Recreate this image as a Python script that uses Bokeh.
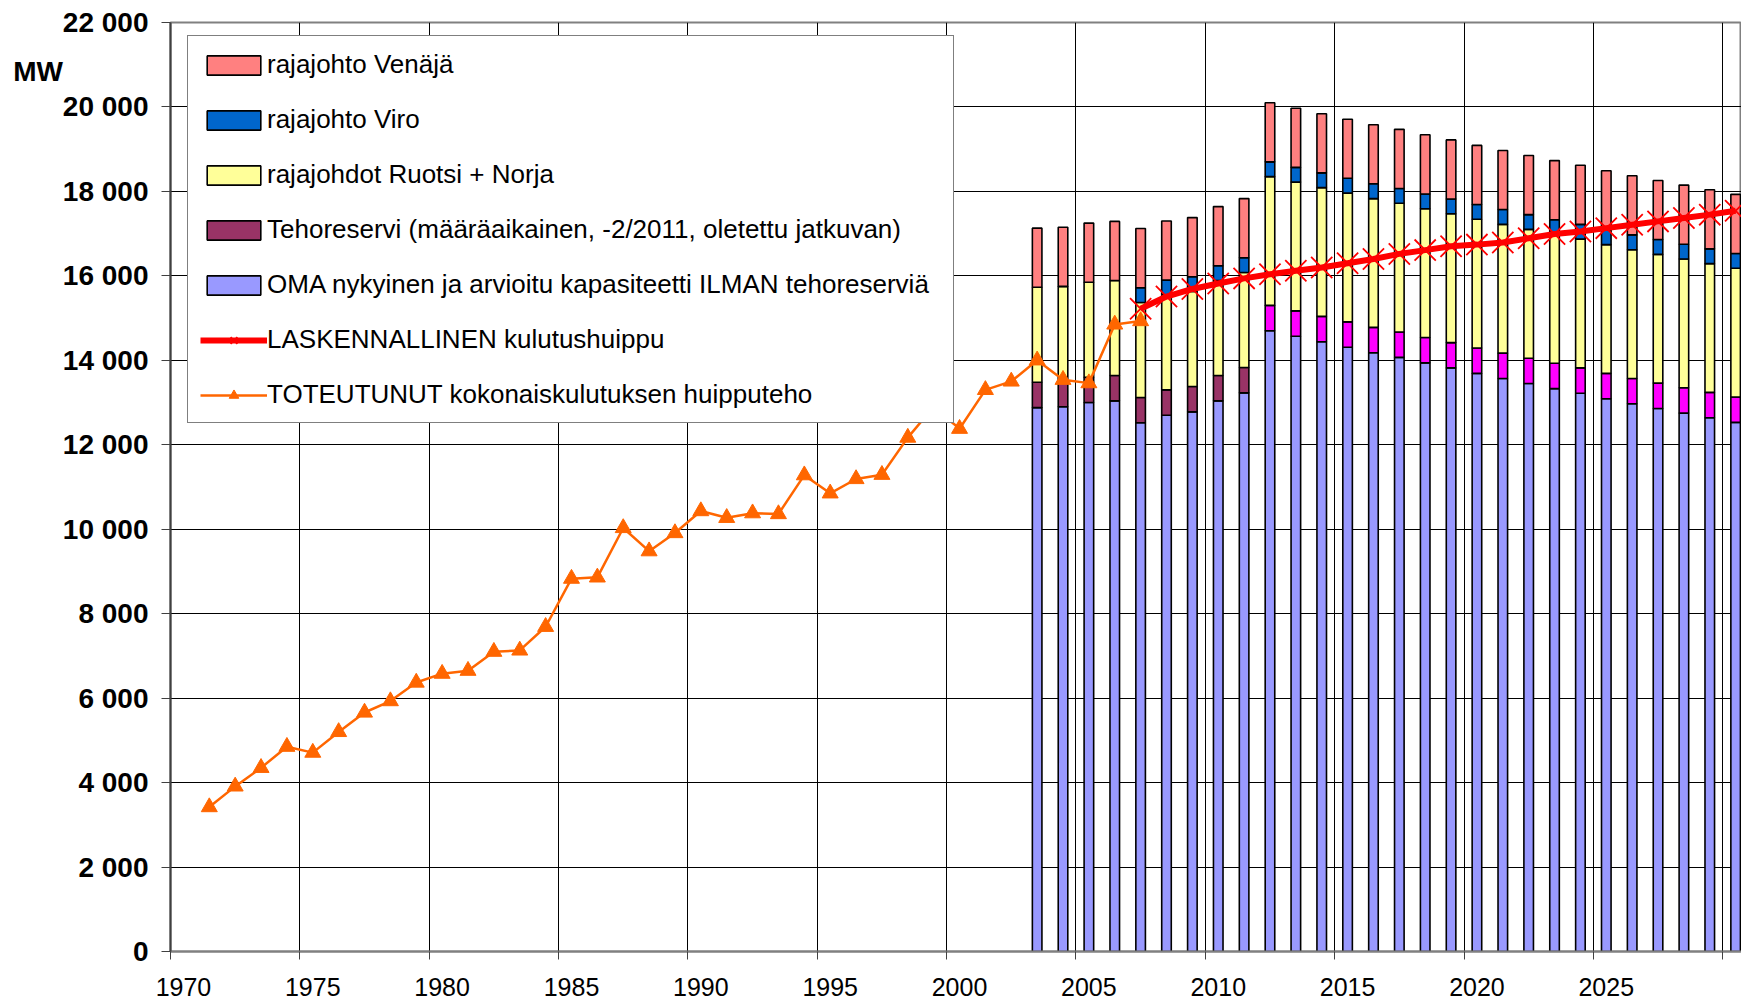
import numpy as np
from bokeh.plotting import figure
from bokeh.models import FixedTicker, Legend, LegendItem, Range1d, ColumnDataSource
from bokeh.embed import file_html
from bokeh.resources import INLINE

# ---------------- data ----------------
vuodet_hist = list(range(1971, 2008))
toteutunut = [3420, 3910, 4350, 4850, 4710, 5200, 5660, 5930, 6370, 6580,
              6650, 7100, 7130, 7690, 8830, 8860, 10030, 9480, 9910, 10430,
              10270, 10380, 10360, 11280, 10850, 11190, 11290, 12170, 12900, 12380,
              13300, 13500, 14000, 13540, 13460, 14850, 14930]

vuodet_lask = list(range(2007, 2031))
laskennallinen = [15220, 15510, 15690, 15820, 15940, 16040, 16120, 16200, 16300, 16400,
                  16520, 16610, 16700, 16740, 16790, 16890, 16990, 17050, 17130, 17210,
                  17290, 17370, 17450, 17540]

vuodet = list(range(2003, 2031))
oma = [12880, 12900, 13000, 13040, 12520, 12700, 12780, 13040, 13230, 14700,
       14570, 14440, 14310, 14180, 14070, 13940, 13820, 13690, 13570, 13450,
       13330, 13220, 13090, 12970, 12860, 12750, 12640, 12530]
tehoreservi = [600, 600, 600, 600, 600, 600, 600, 600, 600, 600,
               600, 600, 600, 600, 600, 600, 600, 600, 600, 600,
               600, 600, 600, 600, 600, 600, 600, 600]
ruotsi_norja = [2250, 2250, 2250, 2250, 2250, 2250, 2250, 2250, 2250, 3050,
                3050, 3050, 3050, 3050, 3050, 3050, 3050, 3050, 3050, 3050,
                3050, 3050, 3050, 3050, 3050, 3050, 3050, 3050]
viro = [0, 0, 0, 0, 350, 350, 350, 350, 350, 350,
        350, 350, 350, 350, 350, 350, 350, 350, 350, 350,
        350, 350, 350, 350, 350, 350, 350, 350]
venaja = [1400, 1400, 1400, 1400, 1400, 1400, 1400, 1400, 1400, 1400,
          1400, 1400, 1400, 1400, 1400, 1400, 1400, 1400, 1400, 1400,
          1400, 1400, 1400, 1400, 1400, 1400, 1400, 1400]

x_label_years = [1970, 1975, 1980, 1985, 1990, 1995, 2000, 2005, 2010, 2015, 2020, 2025]
y_ticks = [0, 2000, 4000, 6000, 8000, 10000, 12000, 14000, 16000, 18000, 20000, 22000]
yksikko = "MW"

labels = {
    "venaja": "rajajohto Venäjä",
    "viro": "rajajohto Viro",
    "ruotsi": "rajajohdot Ruotsi + Norja",
    "teho": "Tehoreservi (määräaikainen, -2/2011, oletettu jatkuvan)",
    "oma": "OMA nykyinen ja arvioitu kapasiteetti ILMAN tehoreserviä",
    "lask": "LASKENNALLINEN kulutushuippu",
    "tot": "TOTEUTUNUT kokonaiskulutuksen huipputeho",
}

# ---------------- layout ----------------
W, H = 1741, 999
FL, FT, FB = 170, 22, 48
PX_PER_YEAR = 25.87
X0 = 1969.5
X1 = X0 + (W - FL) / PX_PER_YEAR
FONT = "Liberation Sans"

p = figure(width=W, height=H, output_backend="svg", toolbar_location=None, title=None,
           x_range=Range1d(X0, X1), y_range=Range1d(0, 22000),
           min_border_left=FL, min_border_right=0, min_border_top=FT, min_border_bottom=FB)
p.background_fill_color = "white"
p.border_fill_color = "white"
p.outline_line_color = "#808080"
p.outline_line_width = 2

# ---------------- bars ----------------
BAR_W = 0.37
years = np.array(vuodet, dtype=float)
bottom = np.zeros(len(years))


def add_layer(values, colors):
    global bottom
    vals = np.array(values, dtype=float)
    src = ColumnDataSource(dict(x=years, b=bottom.copy(), t=bottom + vals, c=colors))
    r = p.vbar(x="x", bottom="b", top="t", width=BAR_W, fill_color="c",
               line_color="black", line_width=1.6, source=src)
    bottom = bottom + vals
    return r


n = len(years)
r_oma = add_layer(oma, ["#9999FF"] * n)
r_teho = add_layer(tehoreservi, ["#993366" if y <= 2011 else "#FF00FF" for y in vuodet])
r_ruotsi = add_layer(ruotsi_norja, ["#FFFF99"] * n)
r_viro = add_layer(viro, ["#0066CC"] * n)
r_venaja = add_layer(venaja, ["#FF8080"] * n)

# ---------------- lines ----------------
r_lask_l = p.line(vuodet_lask, laskennallinen, line_color="#FF0000", line_width=6)
r_lask_m = p.scatter(vuodet_lask, laskennallinen, marker="x", size=30,
                     line_color="#FF0000", line_width=1.8)
r_tot_l = p.line(vuodet_hist, toteutunut, line_color="#FF6600", line_width=2.5)
r_tot_m = p.scatter(vuodet_hist, toteutunut, marker="triangle", size=16,
                    fill_color="#FF6600", line_color="#FF6600")

# ---------------- axes & grid ----------------
boundaries = [t - 0.5 for t in x_label_years] + [x_label_years[-1] + 4.5]
xa = p.xaxis[0]
xa.ticker = FixedTicker(ticks=x_label_years, minor_ticks=boundaries)
xa.major_tick_line_color = None
xa.major_tick_out = 0
xa.major_tick_in = 0
xa.minor_tick_line_color = "#404040"
xa.minor_tick_out = 8
xa.minor_tick_in = 0
xa.axis_line_color = "#808080"
xa.axis_line_width = 2
xa.major_label_text_font = FONT
xa.major_label_text_font_size = "25px"
xa.major_label_text_color = "black"
xa.major_label_standoff = 18

# y axis: the unit "MW" is written as an extra tick label just below 22 000,
# pushed to the left edge with non-breaking spaces
PX_PER_MW = (H - FT - FB) / 22000.0
mw_pos = 22000 - (71 - FT) / PX_PER_MW
ya = p.yaxis[0]
ya.ticker = FixedTicker(ticks=y_ticks + [mw_pos], minor_ticks=y_ticks)
overrides = {t: f"{t:,}".replace(",", " ") for t in y_ticks}
overrides[mw_pos] = yksikko + "\u00a0" * 11
ya.major_label_overrides = overrides
ya.major_label_text_font = FONT
ya.major_label_text_font_style = "bold"
ya.major_label_text_font_size = "28px"
ya.major_label_text_color = "black"
ya.major_tick_out = 9
ya.major_tick_in = 0
ya.major_tick_line_color = None
ya.minor_tick_out = 9
ya.minor_tick_in = 0
ya.minor_tick_line_color = "#404040"
ya.axis_line_color = "#404040"
ya.axis_line_width = 2
ya.major_label_standoff = 13

p.xgrid.ticker = FixedTicker(ticks=boundaries)
p.xgrid.grid_line_color = "black"
p.xgrid.grid_line_width = 1
p.ygrid.ticker = FixedTicker(ticks=y_ticks)
p.ygrid.grid_line_color = "black"
p.ygrid.grid_line_width = 1

# ---------------- legend ----------------
items = [
    LegendItem(label=labels["venaja"], renderers=[r_venaja], index=0),
    LegendItem(label=labels["viro"], renderers=[r_viro], index=5),
    LegendItem(label=labels["ruotsi"], renderers=[r_ruotsi], index=0),
    LegendItem(label=labels["teho"], renderers=[r_teho], index=0),
    LegendItem(label=labels["oma"], renderers=[r_oma], index=0),
    LegendItem(label=labels["lask"], renderers=[r_lask_l, r_lask_m]),
    LegendItem(label=labels["tot"], renderers=[r_tot_l, r_tot_m]),
]
legend = Legend(items=items, location=(17, 528))
legend.margin = 0
legend.padding = (12, 12, 13, 12)
legend.spacing = 24
legend.glyph_width = 67
legend.glyph_height = 24
legend.label_standoff = 0
legend.label_width = 674
legend.label_text_font = FONT
legend.label_text_font_size = "26px"
legend.label_text_color = "black"
legend.border_line_color = "black"
legend.border_line_width = 1
legend.background_fill_color = "white"
legend.background_fill_alpha = 1.0
p.add_layout(legend)

open("out.html", "w").write(file_html(p, INLINE))
